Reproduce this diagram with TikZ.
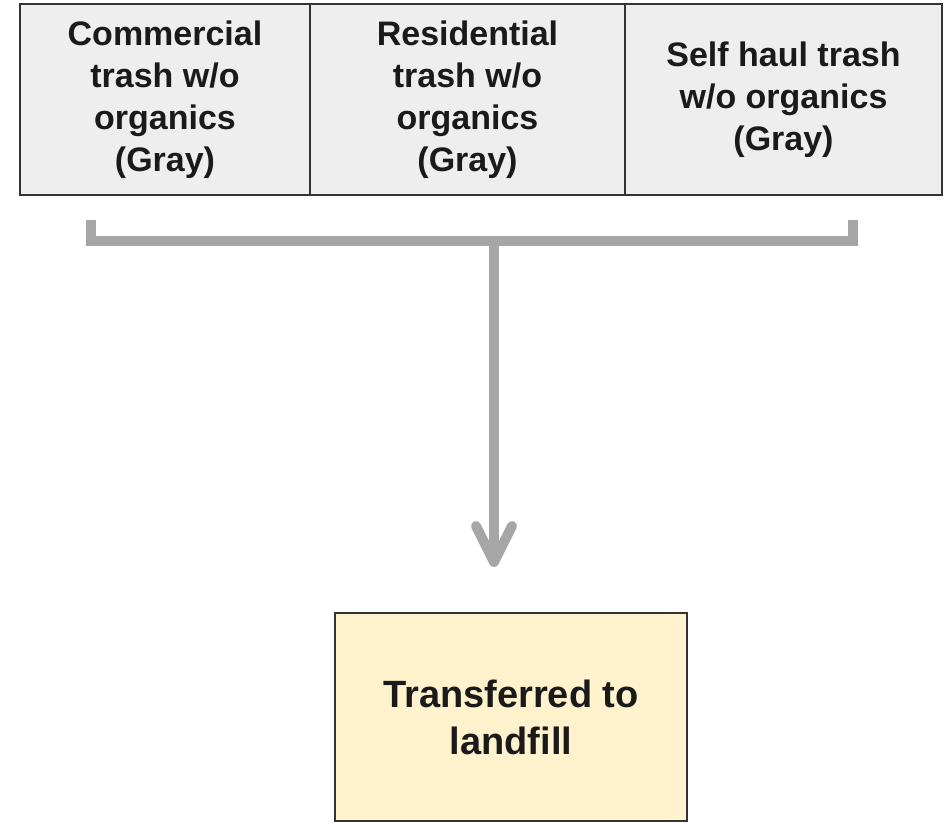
\documentclass[tikz,border=0pt]{standalone}
\usepackage{fontspec}
\setmainfont{Liberation Sans}
\usetikzlibrary{arrows.meta}
\definecolor{edgegray}{HTML}{333333}
\definecolor{boxgray}{HTML}{EEEEEE}
\definecolor{bargray}{HTML}{A6A6A6}
\definecolor{paleyellow}{HTML}{FFF2CC}
\definecolor{inkdark}{HTML}{1A1A1A}
\begin{document}
\begin{tikzpicture}[x=1pt,y=-1pt,
  sourcebox/.style={draw=edgegray, line width=2.5pt, fill=boxgray, inner sep=0pt, outer sep=0pt,
    minimum height=191pt, align=center, text=inkdark,
    font=\bfseries\fontsize{34}{42}\selectfont},
  targetbox/.style={draw=edgegray, line width=2.5pt, fill=paleyellow, inner sep=0pt, outer sep=0pt,
    minimum width=352pt, minimum height=208pt, align=center, text=inkdark,
    font=\bfseries\fontsize{38}{47}\selectfont},
  bar/.style={draw=bargray, line width=10pt}
]
\useasboundingbox (0,0) rectangle (948,823);

% source streams
\node[sourcebox, minimum width=290pt] (comm) at (165,99.5) {Commercial\\trash w/o\\organics\\(Gray)};
\node[sourcebox, minimum width=315pt] (resi) at (467.5,99.5) {Residential\\trash w/o\\organics\\(Gray)};
\node[sourcebox, minimum width=317pt] (self) at (783.5,99.5) {Self haul trash\\w/o organics\\(Gray)};

% destination
\node[targetbox] (fill) at (511,717) {Transferred to\\landfill};

% collecting bracket
\coordinate (bl) at (91,220);
\coordinate (blc) at (91,241);
\coordinate (brc) at (853,241);
\coordinate (br) at (853,220);
\coordinate (mid) at (494,241);
\coordinate (tip) at (494,567);
\draw[bar, line join=miter] (bl) -- (blc) -- (brc) -- (br);

% flow down to the landfill
\draw[bar, -{Straight Barb[length=36pt, width=36pt, round]}] (mid) -- (tip);
\end{tikzpicture}
\end{document}
